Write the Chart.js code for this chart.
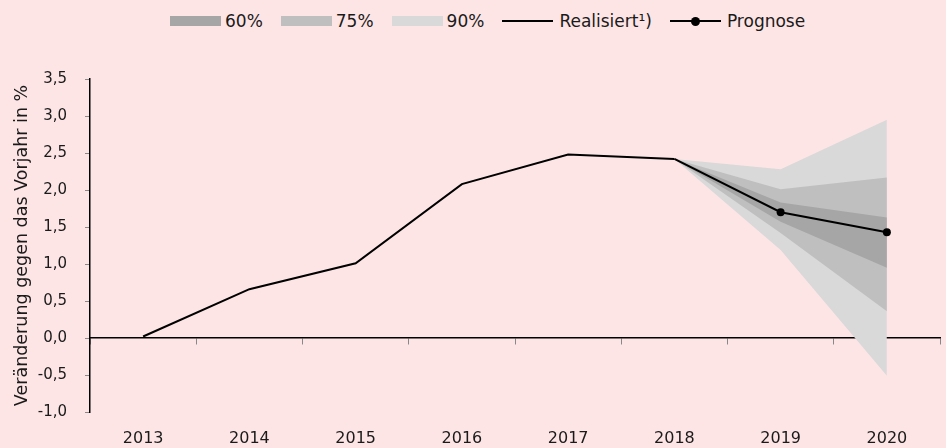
<!DOCTYPE html>
<html><head><meta charset="utf-8">
<script src="https://cdn.jsdelivr.net/npm/chart.js@4.4.0/dist/chart.umd.min.js"></script>
<style>
html,body{margin:0;padding:0;background:#fee5e5;}
#wrap{position:relative;width:946px;height:448px;}
#legend{position:absolute;top:11px;left:170px;height:20px;display:flex;justify-content:flex-start;align-items:center;font-family:"DejaVu Sans",sans-serif;font-size:17px;color:#1a1a1a;white-space:nowrap;}
.li{display:flex;align-items:center;margin-right:18px;}
.box{width:51px;height:10px;margin-right:4px;}
.ln{position:relative;width:51px;height:2px;background:#000;margin-right:6px;}
.dot{position:absolute;left:21px;top:-3.5px;width:9px;height:9px;border-radius:50%;background:#000;}
canvas{position:absolute;top:0;left:0;}
</style></head>
<body><div id="wrap"><div id="legend"></div><canvas id="c" width="946" height="448"></canvas></div>
<script>
const years = ['2013','2014','2015','2016','2017','2018','2019','2020'];
const realisiert = [0.02, 0.66, 1.01, 2.08, 2.48, 2.42, null, null];
const prognose = [null, null, null, null, null, 2.42, 1.70, 1.43];
const up90 = [null, null, null, null, null, 2.42, 2.28, 2.95];
const lo90 = [null, null, null, null, null, 2.42, 1.19, -0.51];
const up75 = [null, null, null, null, null, 2.42, 2.01, 2.17];
const lo75 = [null, null, null, null, null, 2.42, 1.42, 0.36];
const up60 = [null, null, null, null, null, 2.42, 1.83, 1.63];
const lo60 = [null, null, null, null, null, 2.42, 1.57, 0.95];
const legendItems = [
  {t:'60%', c:'#a6a6a6', k:'box'},
  {t:'75%', c:'#bfbfbf', k:'box'},
  {t:'90%', c:'#d9d9d9', k:'box'},
  {t:'Realisiert¹)', k:'line'},
  {t:'Prognose', k:'dot'}
];
const lg = document.getElementById('legend');
legendItems.forEach(it=>{
  const d=document.createElement('div'); d.className='li';
  let m;
  if(it.k==='box'){m='<span class="box" style="background:'+it.c+'"></span>';}
  else if(it.k==='line'){m='<span class="ln"></span>';}
  else {m='<span class="ln"><span class="dot"></span></span>';}
  d.innerHTML=m+'<span>'+it.t+'</span>';
  lg.appendChild(d);
});
const band = (data, color, order, fill) => ({data, borderWidth:0, borderColor:'transparent', backgroundColor:color, pointRadius:0, fill, order, tension:0, spanGaps:false});
const FONT = {family:'"DejaVu Sans", sans-serif', size:16};
const YFONT = {family:'"DejaVu Sans", sans-serif', size:15};
const TFONT = {family:'"DejaVu Sans", sans-serif', size:17.5};
new Chart(document.getElementById('c'), {
  type:'line',
  data:{labels:years, datasets:[
    band(up90, '#d9d9d9', 6, false),
    band(lo90, '#d9d9d9', 6, 0),
    band(up75, '#bfbfbf', 5, false),
    band(lo75, '#bfbfbf', 5, 2),
    band(up60, '#a6a6a6', 4, false),
    band(lo60, '#a6a6a6', 4, 4),
    {data:realisiert, borderColor:'#000', borderWidth:2, pointRadius:0, fill:false, order:1},
    {data:prognose, borderColor:'#000', backgroundColor:'#000', borderWidth:2, pointRadius:[0,0,0,0,0,0,4,4], pointBorderWidth:0, fill:false, order:0}
  ]},
  options:{
    responsive:false, animation:false,
    layout:{padding:{top:79, right:6, left:0, bottom:0}},
    plugins:{legend:{display:false}, tooltip:{enabled:false}},
    scales:{
      x:{offset:true, grid:{display:false}, border:{display:false},
         afterFit:s=>{s.height=36;},
         ticks:{color:'#1a1a1a', font:FONT, padding:9, maxRotation:0}},
      x2:{type:'category', labels:years, position:{y:0}, offset:true,
          afterFit:s=>{s.height=0;},
          grid:{offset:true, drawOnChartArea:false, tickLength:6, color:'#888'},
          border:{color:'#000', width:1.5}, ticks:{display:false}},
      y:{min:-1, max:3.5, afterFit:s=>{s.width=90;},
         ticks:{stepSize:0.5, color:'#1a1a1a', font:YFONT, padding:18,
            callback:v=>v.toFixed(1).replace('.',',')},
         grid:{drawOnChartArea:false, tickLength:5, color:'#888'},
         border:{color:'#000', width:1.5},
         title:{display:true, text:'Veränderung gegen das Vorjahr in %', color:'#1a1a1a', font:TFONT, padding:{top:12,bottom:0}}}
    }
  }
});
</script></body></html>
